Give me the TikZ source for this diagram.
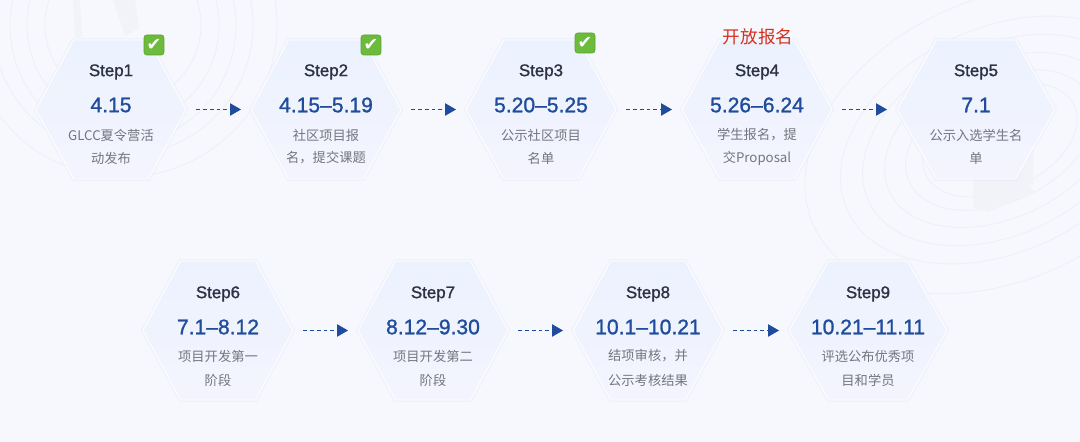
\documentclass[tikz,border=0pt]{standalone}
\usepackage{fontspec}
\setmainfont{Liberation Sans}
\newfontfamily\cjk{Noto Sans CJK SC}
\newfontfamily\stepfont[FakeBold=1.2]{Liberation Sans}
\newfontfamily\checkfont{DejaVu Sans}
\usetikzlibrary{shapes.geometric,arrows.meta}
\definecolor{pagebg}{HTML}{F7F8FE}
\definecolor{ringline}{HTML}{EFF0F7}
\definecolor{solidgrey}{HTML}{F2F3F8}
\definecolor{hextop}{HTML}{EBF2FE}
\definecolor{hexbot}{HTML}{F4F4FE}
\definecolor{hexglow}{HTML}{E9ECF9}
\definecolor{titlecol}{HTML}{2B3242}
\definecolor{datecol}{HTML}{1F4C9C}
\definecolor{subcol}{HTML}{73767F}
\definecolor{opencol}{HTML}{D5301F}
\definecolor{checkcol}{HTML}{6CBB3C}
\tikzset{
  hexbase/.style={regular polygon, regular polygon sides=6,
    inner sep=0pt, outer sep=0pt, transform shape,
    preaction={draw=hexglow, line width=2.2pt, opacity=0.45},
    draw=white, line width=0.5pt, top color=hextop, bottom color=hexbot},
  hexbox/.style={hexbase, minimum size=3cm, yscale=1.07},
  hexwide/.style={hexbase, minimum size=3.16cm, yscale=1.016},
  steptitle/.style={font=\stepfont\fontsize{9.6}{11}\selectfont, text=titlecol},
  stepdate/.style={font=\stepfont\fontsize{12}{14}\selectfont, text=datecol},
  stepsub/.style={font=\cjk\fontsize{7.55}{9}\selectfont, text=subcol},
  stepflow/.style={draw=datecol, line width=0.55pt, dash pattern=on 2.2pt off 1.7pt,
    shorten <=0.2cm, shorten >=0.2cm, -{Triangle[length=6.2pt,width=7pt,sep=0pt]}},
  checkbox/.style={rectangle, rounded corners=1.5pt, minimum size=0.4cm, inner sep=0pt,
    fill=checkcol, draw=checkcol!85!black, line width=0.3pt, text=white,
    font=\checkfont\fontsize{10}{10}\selectfont},
  ring/.style={draw=ringline, line width=0.5pt}
}
\begin{document}
\begin{tikzpicture}[x=0.02cm, y=-0.02cm]
\useasboundingbox (0,0) rectangle (1080,442);
\fill[pagebg] (0,0) rectangle (1080,442);
%
\begin{scope}
  \clip (0,0) rectangle (1080,442);
  % rings top left
  \draw[ring] (123,25) ellipse (78 and 78);
  \draw[ring] (123,25) ellipse (96 and 100);
  \draw[ring] (123,25) ellipse (113 and 118);
  \draw[ring] (123,25) ellipse (130 and 130);
  \draw[ring] (123,25) ellipse (154 and 152);
  \fill[solidgrey] (73,0) -- (75,37) -- (82,37) -- (80,0) -- cycle;
  \fill[solidgrey] (113,0) -- (125,36) -- (139,28) -- (135,0) -- cycle;
  % rings bottom right
  \draw[ring,rotate around={25:(1000,140)}] (1000,140) ellipse (82 and 50);
  \draw[ring,rotate around={25:(1000,140)}] (1000,140) ellipse (100 and 62);
  \draw[ring,rotate around={25:(1000,140)}] (1000,140) ellipse (122 and 78);
  \draw[ring,rotate around={25:(1000,140)}] (1000,140) ellipse (145 and 95);
  \draw[ring,rotate around={25:(1000,140)}] (1000,140) ellipse (168 and 112);
  \draw[ring,rotate around={25:(1000,140)}] (1000,140) ellipse (205 and 140);
  \fill[solidgrey] (973,177) -- (973,207) -- (988,212) -- (1035,192) -- (1028,185) -- (1033,185) -- (1033,150) -- cycle;
\end{scope}
%
\node[hexbox] (hex1) at (111,109.5) {};
\node[hexbox] (hex2) at (326,109.5) {};
\node[hexbox] (hex3) at (541,109.5) {};
\node[hexbox] (hex4) at (757,109.5) {};
\node[hexwide] (hex5) at (976,109.5) {};
%
\node[hexbox] (hex6) at (218,330.5) {};
\node[hexbox] (hex7) at (433,330.5) {};
\node[hexbox] (hex8) at (648,330.5) {};
\node[hexwide] (hex9) at (868,330.5) {};
%
\draw[stepflow] (hex1) -- (hex2);
\draw[stepflow] (hex2) -- (hex3);
\draw[stepflow] (hex3) -- (hex4);
\draw[stepflow] (hex4) -- (hex5);
%
\draw[stepflow] (hex6) -- (hex7);
\draw[stepflow] (hex7) -- (hex8);
\draw[stepflow] (hex8) -- (hex9);
%
\node[steptitle] (title1) at (111,72) {Step1};
\node[stepdate] (date1) at (111,105) {4.15};
\node[stepsub] (suba1) at (111,135) {GLCC夏令营活};
\node[stepsub] (subb1) at (111,158) {动发布};
%
\node[steptitle] (title2) at (326,72) {Step2};
\node[stepdate] (date2) at (326,105) {4.15–5.19};
\node[stepsub] (suba2) at (326,135) {社区项目报};
\node[stepsub] (subb2) at (326,158) {名，提交课题};
%
\node[steptitle] (title3) at (541,72) {Step3};
\node[stepdate] (date3) at (541,105) {5.20–5.25};
\node[stepsub] (suba3) at (541,135) {公示社区项目};
\node[stepsub] (subb3) at (541,158) {名单};
%
\node[steptitle] (title4) at (757,72) {Step4};
\node[stepdate] (date4) at (757,105) {5.26–6.24};
\node[stepsub] (suba4) at (757,135) {学生报名，提};
\node[stepsub] (subb4) at (757,158) {交Proposal};
%
\node[steptitle] (title5) at (976,72) {Step5};
\node[stepdate] (date5) at (976,105) {7.1};
\node[stepsub] (suba5) at (976,135) {公示入选学生名};
\node[stepsub] (subb5) at (976,158) {单};
%
\node[steptitle] (title6) at (218,294) {Step6};
\node[stepdate] (date6) at (218,327) {7.1–8.12};
\node[stepsub] (suba6) at (218,356) {项目开发第一};
\node[stepsub] (subb6) at (218,380) {阶段};
%
\node[steptitle] (title7) at (433,294) {Step7};
\node[stepdate] (date7) at (433,327) {8.12–9.30};
\node[stepsub] (suba7) at (433,356) {项目开发第二};
\node[stepsub] (subb7) at (433,380) {阶段};
%
\node[steptitle] (title8) at (648,294) {Step8};
\node[stepdate] (date8) at (648,327) {10.1–10.21};
\node[stepsub] (suba8) at (648,356) {结项审核，并};
\node[stepsub] (subb8) at (648,380) {公示考核结果};
%
\node[steptitle] (title9) at (868,294) {Step9};
\node[stepdate] (date9) at (868,327) {10.21–11.11};
\node[stepsub] (suba9) at (868,356) {评选公布优秀项};
\node[stepsub] (subb9) at (868,380) {目和学员};
%
\node[checkbox] (check1) at (154,45) {✔};
\node[checkbox] (check2) at (371,45) {✔};
\node[checkbox] (check3) at (585,43) {✔};
%
\node[font=\cjk\fontsize{10}{12}\selectfont, text=opencol] (open4) at (758,37) {开放报名};
\end{tikzpicture}
\end{document}
